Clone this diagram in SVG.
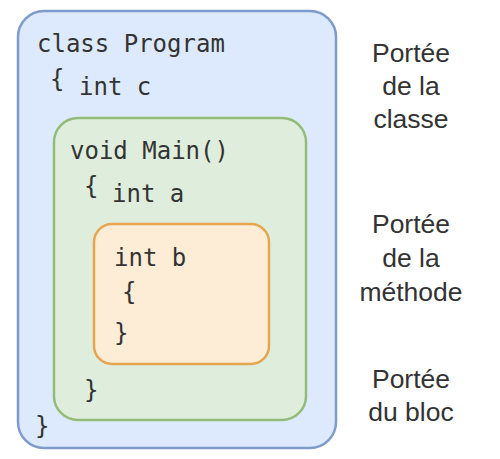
<svg xmlns="http://www.w3.org/2000/svg" width="500" height="459" viewBox="0 0 500 459">
<style>
.code{font-family:"DejaVu Sans Mono","Liberation Mono",monospace;font-size:24px;fill:#333333}
.lbl{font-family:"Liberation Sans",Arial,sans-serif;font-size:26.5px;fill:#333333;text-anchor:middle}
</style>
<rect width="500" height="459" fill="#ffffff"/>
<g id="class-scope">
<rect x="18" y="11" width="318" height="437" rx="26" fill="#dde9fc" stroke="#7d9bcb" stroke-width="2.5"/>
<text class="code" x="37" y="52">class Program</text>
<text class="code" x="50" y="87">{</text>
<text class="code" x="79" y="95">int c</text>
<text class="code" x="35" y="434">}</text>
</g>
<g id="method-scope">
<rect x="54" y="118" width="252" height="302" rx="24" fill="#dfeedc" stroke="#93bc78" stroke-width="2.5"/>
<text class="code" x="70" y="159">void Main()</text>
<text class="code" x="84" y="194">{</text>
<text class="code" x="112" y="202">int a</text>
<text class="code" x="84" y="398">}</text>
</g>
<g id="block-scope">
<rect x="94" y="224" width="175" height="140" rx="18" fill="#fdecd6" stroke="#e6a550" stroke-width="2.5"/>
<text class="code" x="114" y="266">int b</text>
<text class="code" x="122" y="300">{</text>
<text class="code" x="114" y="341">}</text>
</g>
<g id="labels">
<text class="lbl" x="411" y="62">Portée</text>
<text class="lbl" x="411" y="95">de la</text>
<text class="lbl" x="411" y="128">classe</text>
<text class="lbl" x="411" y="233">Portée</text>
<text class="lbl" x="411" y="267">de la</text>
<text class="lbl" x="411" y="301">méthode</text>
<text class="lbl" x="411" y="388">Portée</text>
<text class="lbl" x="411" y="421">du bloc</text>
</g>
<g id="connectors"/>
</svg>
